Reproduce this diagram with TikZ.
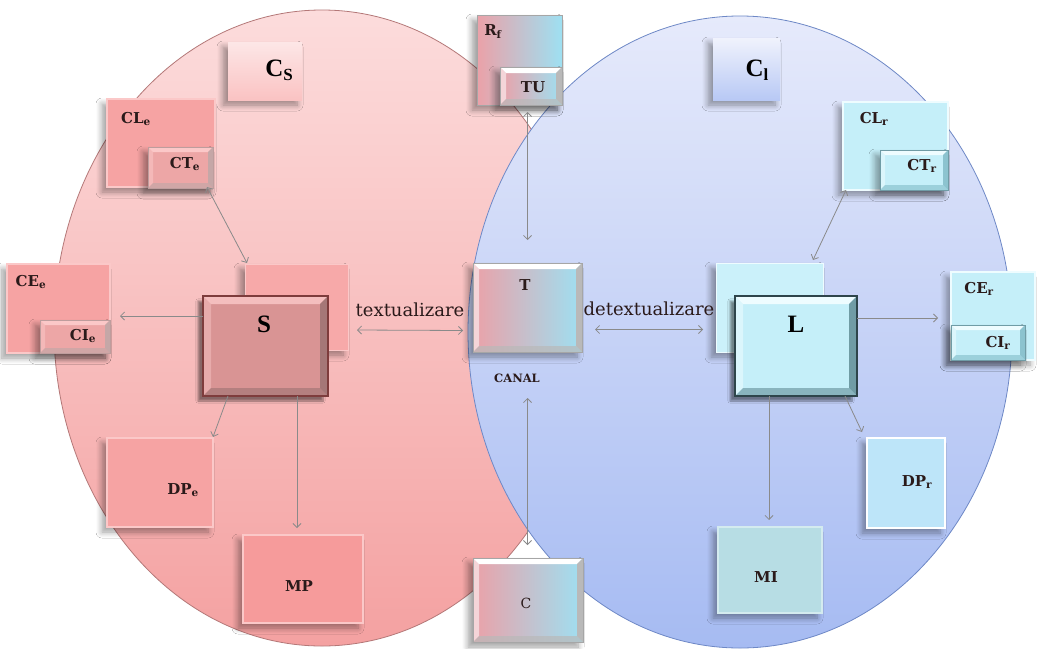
\documentclass[tikz,border=0pt]{standalone}
\usepackage{fontspec}
\setmainfont{DejaVu Serif}
\newfontfamily\timesbf{Liberation Serif}
\usetikzlibrary{calc,arrows.meta,shadows.blur}

\definecolor{pinkTop}{HTML}{FCDCDC}
\definecolor{pinkBot}{HTML}{F4A1A1}
\definecolor{pinkEdge}{HTML}{B47878}
\definecolor{blueTop}{HTML}{E6EAFB}
\definecolor{blueBot}{HTML}{A6BBF2}
\definecolor{blueEdge}{HTML}{6E88C6}
\definecolor{rose}{HTML}{F6A3A3}
\definecolor{roseLight}{HTML}{FBC8C8}
\definecolor{roseDeep}{HTML}{D99494}
\definecolor{roseDark}{HTML}{7E3C3C}
\definecolor{roseSmall}{HTML}{EDA6A6}
\definecolor{aqua}{HTML}{C5EFF9}
\definecolor{aquaLight}{HTML}{EEFCFF}
\definecolor{aquaDark}{HTML}{2E454B}
\definecolor{aquaMid}{HTML}{8CC3CF}
\definecolor{mist}{HTML}{B7DDE4}
\definecolor{arrowgray}{HTML}{8A8A8A}
\definecolor{gradL}{HTML}{EBA1A8}
\definecolor{gradR}{HTML}{9EE0F2}
\definecolor{ink}{HTML}{2A1A1A}

\tikzset{
  box/.style={rectangle, inner sep=0pt, outer sep=0pt},
  soft/.style={blur shadow={shadow xshift=-5pt, shadow yshift=-5pt,
      shadow opacity=38, shadow blur steps=7, shadow blur radius=6pt}},
  bevel/.style n args={3}{path picture={
      \coordinate (pnw) at (path picture bounding box.north west);
      \coordinate (pne) at (path picture bounding box.north east);
      \coordinate (psw) at (path picture bounding box.south west);
      \coordinate (pse) at (path picture bounding box.south east);
      \fill[#1] (pnw) -- (pne) -- ($(pne)+(-#3,-#3)$) -- ($(pnw)+(#3,-#3)$) -- cycle;
      \fill[#1, opacity=.55] (pnw) -- ($(pnw)+(#3,-#3)$) -- ($(psw)+(#3,#3)$) -- (psw) -- cycle;
      \fill[#2] (pne) -- (pse) -- ($(pse)+(-#3,#3)$) -- ($(pne)+(-#3,-#3)$) -- cycle;
      \fill[#2, opacity=.7] (psw) -- (pse) -- ($(pse)+(-#3,#3)$) -- ($(psw)+(#3,#3)$) -- cycle;
  }},
  pinkflat/.style={box, soft, fill=rose, draw=roseLight, line width=1.4pt},
  pinksmall/.style={box, soft, fill=roseSmall, draw=roseDark!50, line width=.6pt,
      bevel={roseLight}{roseDark!45}{5pt}},
  aquaflat/.style={box, soft, fill=aqua, draw=aquaLight, line width=1.4pt},
  aquasmall/.style={box, soft, fill=aqua, draw=aquaMid!80!black, line width=.6pt,
      bevel={aquaLight}{aquaMid}{5pt}},
  mixbox/.style={box, soft, left color=gradL, right color=gradR, draw=gray!70, line width=.6pt},
  mixbevel/.style={mixbox, bevel={white!80}{gray!55}{6pt}},
  lbl/.style={inner sep=0pt, text=ink, font=\fontsize{15}{16}\selectfont\bfseries},
  big/.style={inner sep=0pt, text=black, font=\timesbf\fontsize{25}{25}\selectfont\bfseries},
  word/.style={inner sep=0pt, text=ink, font=\fontsize{18}{19}\selectfont},
  conn/.style={draw=arrowgray, line width=.8pt},
  >={Straight Barb[length=4pt,width=8pt]},
  x=1pt, y=-1pt
}

\begin{document}
\begin{tikzpicture}
\useasboundingbox (0,0) rectangle (1040,648);
\fill[white] (0,0) rectangle (1040,648);

% the two overlapping circles of sender and receiver
\shade[top color=pinkTop, bottom color=pinkBot] (322,328) ellipse [x radius=268, y radius=318];
\draw[pinkEdge, line width=.8pt] (322,328) ellipse [x radius=268, y radius=318];
\shade[top color=blueTop, bottom color=blueBot] (740,332) ellipse [x radius=272, y radius=316];
\draw[blueEdge, line width=.8pt] (740,332) ellipse [x radius=272, y radius=316];

% titles of the two circles
\node[box, soft, top color=pinkTop!70!white, bottom color=roseLight!85!rose,
      minimum width=74pt, minimum height=58pt] (CsBox) at (265,71) {};
\node[big] (Cs) at (279,70) {C\raisebox{-4pt}{\fontsize{17}{17}\selectfont S}};
\node[box, soft, top color=blueTop!60!white, bottom color=blueBot!80!white,
      minimum width=67pt, minimum height=62pt] (ClBox) at (746.5,69) {};
\node[big] (Cl) at (757,70) {C\raisebox{-4pt}{\fontsize{17}{17}\selectfont l}};

% sender side
\node[pinkflat, minimum width=108pt, minimum height=88pt] (CLe) at (161,143) {};
\node[pinksmall, minimum width=65pt, minimum height=41pt] (CTe) at (180.5,167.5) {};
\node[lbl] (CLeT) at (136,119) {CL\textsubscript{e}};
\node[lbl] (CTeT) at (185,164) {CT\textsubscript{e}};

\node[pinkflat, minimum width=103pt, minimum height=89pt] (CEe) at (58.5,308.5) {};
\node[pinksmall, minimum width=70pt, minimum height=33pt] (CIe) at (75,336.5) {};
\node[lbl] (CEeT) at (31,282) {CE\textsubscript{e}};
\node[lbl] (CIeT) at (83,336) {CI\textsubscript{e}};

\node[box, soft, fill=rose!90!pinkTop, draw=roseLight, line width=1pt,
      minimum width=103pt, minimum height=86pt] (Sp) at (296.5,307) {};
\node[box, blur shadow={shadow xshift=-5pt, shadow yshift=-5pt, shadow opacity=45,
      shadow blur steps=7}, fill=roseDeep, draw=roseDark, line width=1.4pt,
      bevel={roseLight!80!roseDeep}{roseDark!70}{8pt},
      minimum width=125pt, minimum height=100pt] (S) at (265.5,346) {};
\node[big] (ST) at (264,324) {S};

\node[pinkflat, minimum width=106pt, minimum height=89pt] (DPe) at (160,482.5) {};
\node[lbl] (DPeT) at (183,490) {DP\textsubscript{e}};
\node[pinkflat, fill=rose!95!red, minimum width=120pt, minimum height=88pt] (MP) at (303,579) {};
\node[lbl] (MPT) at (299,586) {MP};

% channel
\node[mixbox, minimum width=85pt, minimum height=90pt] (R) at (519.5,60) {};
\node[mixbevel, minimum width=62pt, minimum height=38pt] (TU) at (531,86) {};
\node[lbl] (RT) at (493,32) {R\textsubscript{f}};
\node[lbl] (TUT) at (533,87) {TU};

\node[mixbevel, minimum width=109pt, minimum height=89pt] (T) at (527.5,307.5) {};
\node[lbl] (TT) at (525,285) {T};
\node[lbl, font=\fontsize{11.5}{12}\selectfont\bfseries] (canal) at (517,378) {CANAL};

\node[mixbevel, minimum width=110pt, minimum height=84pt] (C) at (528,600) {};
\node[lbl, font=\fontsize{14}{15}\selectfont] (CT) at (526,603) {C};

% receiver side
\node[box, soft, fill=aqua!90!white, draw=aquaLight, line width=1pt,
      minimum width=107pt, minimum height=89pt] (Lp) at (769.5,307.5) {};
\node[box, blur shadow={shadow xshift=-5pt, shadow yshift=-5pt, shadow opacity=45,
      shadow blur steps=7}, fill=aqua, draw=aquaDark, line width=1.4pt,
      bevel={aquaLight}{aquaMid!80!black}{8pt},
      minimum width=122pt, minimum height=100pt] (L) at (796,346) {};
\node[big] (LT) at (796,324) {L};

\node[aquaflat, minimum width=105pt, minimum height=88pt] (CLr) at (895.5,146) {};
\node[aquasmall, minimum width=68pt, minimum height=40pt] (CTr) at (914,170) {};
\node[lbl] (CLrT) at (874,119) {CL\textsubscript{r}};
\node[lbl] (CTrT) at (922,166) {CT\textsubscript{r}};

\node[aquaflat, minimum width=84pt, minimum height=88pt] (CEr) at (993,316) {};
\node[aquasmall, minimum width=74pt, minimum height=35pt] (CIr) at (988,342.5) {};
\node[lbl] (CErT) at (979,289) {CE\textsubscript{r}};
\node[lbl] (CIrT) at (998,343) {CI\textsubscript{r}};

\node[aquaflat, fill=aqua!96!blue, draw=white, line width=2pt,
      minimum width=78pt, minimum height=90pt] (DPr) at (906,483) {};
\node[lbl] (DPrT) at (917,482) {DP\textsubscript{r}};
\node[aquaflat, fill=mist, draw=mist!60!white, minimum width=104pt, minimum height=86pt] (MI) at (770,570) {};
\node[lbl] (MIT) at (766,577) {MI};

% connectors
\draw[conn, <->] ($(CTe.south east)+(-6pt,1pt)$) -- ($(Sp.north west)+(2pt,1pt)$);
\draw[conn, ->] ($(S.north west)+(0pt,-20pt)$) -- ($(CIe.north east)+(10pt,4pt)$);
\draw[conn, ->] ($(S.south west)+(25pt,0pt)$) -- ($(DPe.north east)+(0pt,1pt)$);
\draw[conn, ->] ($(S.south west)+(94pt,0pt)$) -- ($(MP.north)+(-6pt,7pt)$);

\draw[conn, <->] ($(Sp.east)+(9pt,-23pt)$) -- ($(T.west)+(-10pt,-23pt)$);
\node[word] (textual) at (410,310) {textualizare};
\draw[conn, <->] ($(T.east)+(13pt,-22pt)$) -- ($(Lp.west)+(-13pt,-22pt)$);
\node[word] (detextual) at (649,309) {detextualizare};

\draw[conn, <->] ($(T.north)+(0pt,23pt)$) -- ($(T.north |- TU.south)+(0pt,-7pt)$);
\draw[conn, <->] ($(T.south)+(0pt,-46pt)$) -- ($(C.north)+(-0.5pt,13pt)$);

\draw[conn, <->] ($(Lp.north east)+(-10pt,3pt)$) -- ($(CLr.south west)+(3pt,0pt)$);
\draw[conn, ->] ($(L.north east)+(0pt,-22pt)$) -- ($(CEr.west)+(-13pt,-2pt)$);
\draw[conn, ->] ($(L.south east)+(-12pt,0pt)$) -- ($(DPr.north west)+(-5pt,6pt)$);
\draw[conn, ->] ($(L.south west)+(34pt,0pt)$) -- ($(MI.north)+(-1pt,7pt)$);
\end{tikzpicture}
\end{document}
